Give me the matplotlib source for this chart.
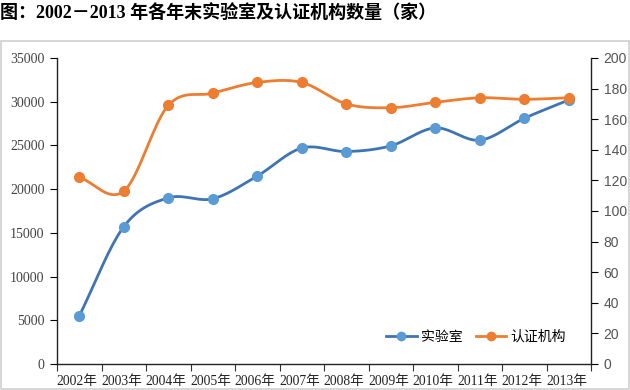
import numpy as np
import matplotlib
matplotlib.use("Agg")
import matplotlib.pyplot as plt
from matplotlib.patches import Rectangle
from matplotlib.lines import Line2D

plt.rcParams['font.family'] = ['Liberation Serif', 'Noto Sans CJK SC', 'DejaVu Sans']

years = ["2002年", "2003年", "2004年", "2005年", "2006年", "2007年",
         "2008年", "2009年", "2010年", "2011年", "2012年", "2013年"]
labs = [5500, 15700, 19000, 18900, 21500, 24700, 24300, 24950, 27000, 25600, 28100, 30200]
certs = [122, 113, 169, 177, 184, 184, 170, 167.5, 171, 174, 173, 174]

title = "图：2002－2013 年各年末实验室及认证机构数量（家）"
series_names = ["实验室", "认证机构"]

blue_line = "#3E74B4"
blue_mark = "#5B9BD5"
orange = "#ED7D31"


def smooth(x, y, n=20):
    x = np.asarray(x, float)
    y = np.asarray(y, float)
    px = np.concatenate([[2 * x[0] - x[1]], x, [2 * x[-1] - x[-2]]])
    py = np.concatenate([[2 * y[0] - y[1]], y, [2 * y[-1] - y[-2]]])
    xs, ys = [], []
    t = np.linspace(0, 1, n, endpoint=False)
    for i in range(1, len(px) - 2):
        p0, p1, p2, p3 = py[i - 1], py[i], py[i + 1], py[i + 2]
        q0, q1, q2, q3 = px[i - 1], px[i], px[i + 1], px[i + 2]
        f = lambda a0, a1, a2, a3: 0.5 * ((2 * a1) + (-a0 + a2) * t +
                                          (2 * a0 - 5 * a1 + 4 * a2 - a3) * t ** 2 +
                                          (-a0 + 3 * a1 - 3 * a2 + a3) * t ** 3)
        xs.append(f(q0, q1, q2, q3))
        ys.append(f(p0, p1, p2, p3))
    xs.append([x[-1]])
    ys.append([y[-1]])
    return np.concatenate(xs), np.concatenate(ys)


fig = plt.figure(figsize=(6.3, 3.9), dpi=100)
fig.patch.set_facecolor("white")

# frame around chart area
fig.patches.append(Rectangle((0.002, 0.002), 0.996, 0.893, transform=fig.transFigure,
                             fill=False, edgecolor="#D0D0D0", linewidth=1.2))

fig.text(0.0, 0.967, title, fontsize=13, fontweight="bold", ha="left", va="center",
         family=['Liberation Serif', 'Noto Sans CJK SC'])

ax = fig.add_axes([0.0905, 0.0667, 0.8476, 0.7846])
ax2 = ax.twinx()

x = np.arange(len(years))
sx, sy = smooth(x, labs)
ax.plot(sx, sy, color=blue_line, lw=2.0, zorder=3)
ax.plot(x, labs, 'o', color=blue_mark, ms=7, zorder=4)

cx, cy = smooth(x, certs)
ax2.plot(cx, cy, color=orange, lw=2.0, zorder=3)
ax2.plot(x, certs, 'o', color=orange, ms=7, zorder=4)

ax.set_xlim(-0.5, len(years) - 0.5)
ax.set_ylim(0, 35000)
ax2.set_ylim(0, 200)
ax.set_yticks(np.arange(0, 35001, 5000))
ax2.set_yticks(np.arange(0, 201, 20))

ax.set_xticks(np.arange(-0.5, len(years), 1.0))
ax.set_xticklabels([])
ax.set_xticks(x - 0.05, minor=True)
ax.set_xticklabels(years, minor=True, fontsize=9.8, color="#222222")
ax.tick_params(axis="x", which="minor", length=0, pad=8)
ax.tick_params(axis="x", which="major", length=5, direction="out", color="#333333")

ax.tick_params(axis="y", length=5, direction="out", labelsize=10, labelcolor="#444444", pad=4)
ax2.tick_params(axis="y", length=5, direction="out", labelsize=10, labelcolor="#555555", pad=4)
for lab in ax2.get_yticklabels():
    lab.set_family(['Liberation Sans', 'DejaVu Sans'])

for a in (ax, ax2):
    a.spines["top"].set_visible(False)
    for s in ("left", "right", "bottom"):
        a.spines[s].set_color("#222222")
        a.spines[s].set_linewidth(1.0)
ax2.spines["left"].set_visible(False)
ax2.spines["bottom"].set_visible(False)
ax.spines["right"].set_visible(False)

handles = [Line2D([0], [0], color=blue_line, lw=2, marker='o', mfc=blue_mark, mec=blue_mark, ms=6),
           Line2D([0], [0], color=orange, lw=2, marker='o', ms=6)]
leg = ax.legend(handles, series_names, loc="center right", bbox_to_anchor=(0.953, 0.088),
                ncol=2, frameon=False, handlelength=2.2, handletextpad=0.3,
                columnspacing=0.95, borderpad=0, borderaxespad=0,
                prop={'family': ['Noto Sans CJK SC', 'DejaVu Sans'], 'size': 10})

fig.savefig("out.png", dpi=100, facecolor="white")
